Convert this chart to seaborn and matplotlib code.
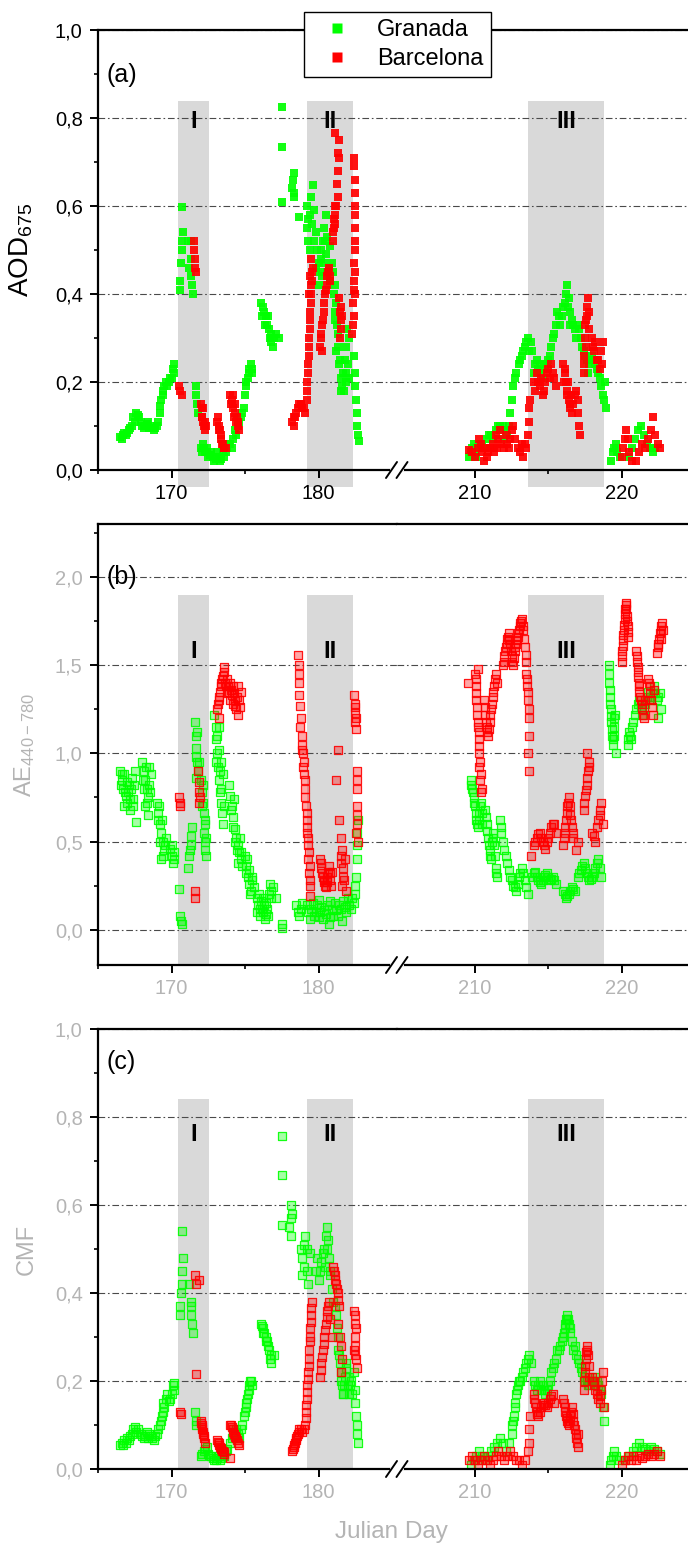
import matplotlib
matplotlib.use('Agg')
import pandas as pd
import matplotlib.pyplot as plt
from matplotlib.lines import Line2D
from matplotlib.ticker import MultipleLocator, FixedLocator, FuncFormatter
import seaborn as sns

# ---------------- data (Julian day, value) ----------------
# AOD 675 nm
gr_aod = [
    (166.5, .075), (166.7, .08), (166.9, .08), (167.1, .09), (167.3, .10), (167.4, .12), (167.6, .13),
    (167.8, .12), (168.0, .10), (168.2, .10), (168.4, .11), (168.6, .10), (168.8, .09), (169.0, .10),
    (169.2, .13), (169.3, .16), (169.45, .18), (169.6, .20), (169.8, .20), (170.0, .21), (170.1, .23),
    (170.2, .24),
    (166.6, .07), (166.8, .085), (167.0, .085), (167.2, .095), (167.5, .11), (167.7, .125), (167.9, .11),
    (168.1, .095), (168.3, .105), (168.5, .095), (168.7, .095), (168.9, .095), (169.1, .11), (169.25, .145),
    (169.4, .17), (169.5, .19), (169.7, .19), (169.9, .21), (170.15, .22),
    (170.6, .41), (170.6, .43), (170.65, .47), (170.7, .50), (170.7, .52), (170.75, .54), (170.7, .597),
    (171.1, .52), (171.2, .46), (171.3, .48), (171.3, .44), (171.35, .52), (171.4, .42), (171.45, .40),
    (171.7, .19), (171.7, .17), (171.75, .15), (171.8, .13),
    (172.0, .05), (172.1, .04), (172.2, .05), (172.3, .04), (172.5, .03), (172.6, .035), (172.8, .03),
    (173.0, .025), (173.2, .03), (173.4, .025), (173.6, .03), (173.8, .05),
    (172.15, .06), (172.4, .05), (172.7, .04), (172.9, .02), (173.1, .04), (173.3, .02), (173.5, .04),
    (173.7, .04), (173.9, .06),
    (174.0, .06), (174.2, .07), (174.4, .08), (174.5, .10), (174.7, .12), (174.9, .14), (175.0, .17),
    (175.1, .19), (175.2, .21), (175.3, .23), (175.4, .24), (175.5, .22),
    (174.1, .05), (174.3, .09), (174.6, .11), (174.8, .13), (175.05, .20), (175.25, .22), (175.45, .23),
    (176.1, .38), (176.2, .37), (176.3, .36), (176.4, .35), (176.5, .33), (176.6, .32), (176.7, .30),
    (176.8, .29), (177.0, .30), (177.3, .30),
    (176.15, .35), (176.35, .33), (176.55, .35), (176.75, .31), (176.9, .28), (177.1, .31),
    (177.55, .825), (177.55, .733), (177.55, .61),
    (178.2, .64), (178.25, .66), (178.3, .62), (178.3, .675), (178.35, .63), (178.7, .575),
    (179.2, .60), (179.3, .57), (179.3, .52), (179.5, .62), (179.6, .648), (179.7, .59), (179.8, .54),
    (179.9, .50), (180.0, .47), (180.1, .45), (180.2, .48), (180.3, .52), (180.4, .55), (180.5, .58),
    (180.6, .53), (180.5, .49), (180.7, .46), (180.8, .43), (180.6, .44),
    (179.25, .55), (179.4, .58), (179.45, .50), (179.55, .56), (179.7, .52), (179.85, .46), (180.05, .42),
    (180.15, .50), (180.25, .44), (180.35, .47), (180.45, .52), (180.55, .45), (180.75, .51), (180.9, .47),
    (181.0, .45), (181.1, .42), (181.2, .38), (181.1, .34), (181.3, .31), (181.2, .27), (181.4, .24),
    (181.5, .21), (181.6, .19), (181.7, .22), (181.8, .25), (181.9, .28), (182.0, .24), (181.9, .20),
    (181.05, .40), (181.15, .36), (181.25, .33), (181.35, .28), (181.45, .25), (181.55, .18), (181.75, .18),
    (181.85, .22), (181.95, .32), (182.05, .30), (182.1, .21),
    (182.4, .26), (182.45, .22), (182.5, .19), (182.55, .16), (182.6, .13), (182.65, .10), (182.7, .08),
    (182.75, .065),
    (209.6, .03), (209.8, .05), (210.0, .04), (210.2, .05), (210.5, .06), (210.8, .07), (211.1, .08),
    (211.4, .09), (211.7, .10), (211.9, .10), (212.0, .07),
    (209.7, .04), (209.9, .06), (210.1, .03), (210.35, .06), (210.65, .05), (210.95, .08), (211.25, .07),
    (211.55, .10), (211.8, .09), (212.1, .09), (212.2, .08),
    (212.3, .10), (212.4, .13), (212.5, .16), (212.6, .19), (212.7, .21), (212.8, .22), (213.0, .24),
    (213.2, .26), (213.4, .28), (213.6, .30), (213.8, .29), (213.9, .27),
    (213.1, .25), (213.3, .27), (213.5, .29), (213.7, .27),
    (214.1, .24), (214.3, .23), (214.5, .22), (214.7, .24), (214.9, .24), (215.1, .26), (215.3, .30),
    (215.5, .33), (215.7, .35), (215.9, .35), (216.1, .38), (216.3, .42), (216.4, .39), (216.5, .36),
    (216.6, .34), (216.8, .32), (217.0, .33), (217.2, .30), (217.4, .27), (217.6, .25), (217.8, .24),
    (218.0, .26), (218.2, .24), (218.4, .22), (218.6, .19), (218.8, .16), (218.9, .14),
    (214.0, .22), (214.2, .25), (214.4, .24), (214.6, .21), (214.8, .23), (215.0, .25), (215.2, .28),
    (215.4, .31), (215.6, .36), (215.8, .33), (216.0, .37), (216.2, .40), (216.35, .37), (216.45, .33),
    (216.7, .33), (216.9, .30), (217.1, .32), (217.3, .28), (217.5, .26), (217.7, .22), (217.9, .25),
    (218.1, .25), (218.3, .23), (218.5, .21), (218.7, .17), (218.85, .20),
    (219.3, .02), (219.4, .04), (219.5, .05), (219.6, .06), (219.7, .04), (219.9, .03),
    (220.5, .03), (220.7, .05), (220.9, .07), (221.1, .09), (221.3, .10), (221.5, .08), (221.7, .06),
    (221.9, .05), (222.1, .04), (222.3, .05),
]
bc_aod = [
    (170.5, .19), (170.6, .18), (170.7, .17),
    (171.5, .52), (171.55, .50), (171.6, .48), (171.6, .46), (171.65, .45),
    (172.0, .15), (172.05, .14), (172.1, .12), (172.15, .11), (172.2, .10), (172.3, .09),
    (172.05, .12), (172.12, .14), (172.25, .11), (172.35, .10),
    (173.1, .11), (173.2, .10), (173.3, .09), (173.4, .07), (173.5, .06), (173.6, .05), (173.7, .05),
    (173.15, .12), (173.25, .09), (173.35, .08), (173.45, .06), (173.55, .05),
    (174.0, .17), (174.1, .16), (174.2, .14), (174.3, .13), (174.4, .11), (174.5, .10), (174.6, .09),
    (174.05, .15), (174.15, .17), (174.25, .12), (174.35, .15), (174.45, .12), (174.55, .11),
    (178.2, .11), (178.4, .12), (178.6, .14), (178.8, .15), (179.0, .14), (179.1, .13),
    (178.3, .12), (178.5, .13), (178.7, .15), (178.9, .14), (178.35, .10),
    (179.2, .16), (179.25, .20), (179.3, .24), (179.35, .28), (179.4, .32), (179.45, .36), (179.5, .40),
    (179.55, .43), (179.6, .46), (179.5, .48),
    (179.22, .18), (179.28, .22), (179.32, .26), (179.38, .30), (179.42, .34), (179.48, .38), (179.52, .42),
    (179.58, .45), (179.45, .44), (179.35, .40),
    (180.1, .28), (180.2, .31), (180.3, .34), (180.4, .38), (180.5, .41), (180.6, .44), (180.7, .46),
    (180.8, .43),
    (180.15, .30), (180.25, .33), (180.35, .36), (180.45, .40), (180.55, .42), (180.65, .45), (180.75, .44),
    (180.25, .27),
    (181.0, .52), (181.05, .55), (181.1, .58), (181.1, .60), (181.25, .65), (181.4, .71), (181.4, .75),
    (181.1, .765),
    (181.05, .57), (181.0, .54), (181.3, .68), (181.35, .72), (181.3, .62), (181.2, .60), (181.15, .56),
    (181.4, .39), (181.45, .36), (181.5, .34), (181.5, .32), (181.45, .30), (181.55, .37), (181.6, .35),
    (182.4, .71), (182.4, .69), (182.45, .66), (182.45, .63), (182.5, .60), (182.5, .58), (182.5, .50),
    (182.45, .45), (182.4, .41), (182.35, .38), (182.4, .35), (182.3, .31),
    (182.35, .33), (182.42, .43), (182.48, .55), (182.47, .52), (182.42, .47), (182.45, .40),
    (209.6, .045), (209.8, .04), (210.0, .03), (210.2, .05), (210.3, .07), (210.4, .06), (210.5, .04),
    (210.6, .02), (210.8, .03), (211.0, .05), (211.2, .06), (211.4, .08), (211.6, .07), (211.8, .06),
    (212.0, .05), (212.2, .06), (212.4, .07), (212.5, .09), (212.6, .10), (212.7, .07), (212.9, .05),
    (213.1, .04), (213.3, .03), (213.5, .05),
    (212.1, .08), (212.3, .05), (211.5, .05), (211.7, .09), (211.3, .04), (210.9, .04), (210.7, .05),
    (213.2, .06), (213.4, .06),
    (213.6, .08), (213.65, .11), (213.7, .14), (213.75, .16),
    (214.0, .20), (214.2, .22), (214.4, .19), (214.6, .17), (214.8, .20), (215.0, .23), (215.2, .24),
    (215.4, .21), (215.5, .19),
    (214.1, .18), (214.3, .20), (214.5, .21), (214.7, .18), (214.9, .22), (215.1, .21), (215.3, .22),
    (216.0, .24), (216.1, .22), (216.2, .20), (216.3, .18), (216.4, .16), (216.5, .14), (216.6, .13),
    (216.7, .15), (216.9, .18), (217.0, .16), (217.05, .13), (217.1, .10), (217.15, .08),
    (216.05, .20), (216.15, .23), (216.25, .17), (216.35, .20), (216.45, .15), (216.55, .17), (216.8, .17),
    (217.4, .22), (217.45, .26), (217.5, .30), (217.55, .34), (217.6, .37), (217.7, .39), (217.8, .32),
    (217.45, .24), (217.5, .33), (217.55, .28), (217.65, .35), (217.75, .36),
    (218.0, .30), (218.1, .27), (218.3, .25), (218.5, .23), (218.6, .27), (218.7, .29),
    (218.05, .28), (218.2, .29), (218.4, .25), (218.65, .24),
    (220.0, .03), (220.1, .05), (220.2, .07), (220.3, .09), (220.4, .07), (220.5, .04), (220.7, .02),
    (221.0, .02), (221.2, .04), (221.4, .06), (221.6, .05), (221.8, .07), (222.0, .09), (222.1, .12),
    (222.3, .08), (222.5, .06), (222.6, .05),
]

# Angstrom exponent 440-780
gr_ae = [
    (166.5, .90), (166.6, .85), (166.7, .80), (166.8, .88), (166.9, .76), (167.0, .72), (167.1, .82),
    (167.2, .68), (167.3, .86), (167.4, .74), (167.6, .61), (167.5, .90),
    (166.55, .82), (166.65, .88), (166.75, .70), (166.85, .78), (166.95, .84), (167.05, .78), (167.15, .74),
    (167.25, .80), (167.35, .70), (167.45, .82),
    (168.0, .95), (168.1, .90), (168.2, .85), (168.3, .80), (168.4, .75), (168.2, .70), (168.5, .92),
    (168.6, .88), (168.4, .65),
    (168.05, .85), (168.15, .80), (168.25, .92), (168.35, .72), (168.45, .82), (168.55, .78),
    (169.0, .72), (169.1, .66), (169.2, .60), (169.3, .55), (169.4, .50), (169.5, .45), (169.3, .40),
    (169.6, .52), (169.9, .46), (170.0, .42), (170.1, .38), (170.2, .44),
    (169.05, .62), (169.15, .70), (169.25, .50), (169.35, .62), (169.45, .42), (169.55, .48), (170.05, .48),
    (170.15, .40),
    (170.5, .23), (170.6, .08), (170.65, .05), (170.7, .03),
    (171.1, .35), (171.2, .42), (171.3, .48), (171.35, .53), (171.4, .58), (171.25, .45),
    (171.6, 1.18), (171.65, 1.10), (171.7, 1.03), (171.75, .95), (171.8, .90), (171.7, .86),
    (171.65, .98), (171.75, 1.12), (171.85, .95),
    (172.0, .85), (172.1, .78), (172.15, .72), (172.2, .66), (172.3, .62), (172.2, .55), (172.25, .50),
    (172.3, .45), (172.35, .42),
    (172.05, .70), (172.15, .82), (172.25, .60), (172.35, .52),
    (172.9, 1.22), (173.0, 1.15), (173.05, 1.08), (173.1, 1.00), (173.15, .92), (173.2, .85),
    (173.3, .78), (173.35, .72), (173.25, 1.02), (173.4, .95), (173.5, .88), (173.45, .66), (173.5, .60),
    (173.0, .95), (173.1, 1.10), (173.2, 1.15), (173.3, .90), (173.4, .80), (173.55, .70),
    (173.9, .82), (174.0, .76), (174.1, .70), (174.2, .64), (174.15, .58),
    (174.05, .68), (174.25, .74),
    (174.3, .57), (174.4, .52), (174.5, .48), (174.6, .44), (174.7, .40), (174.8, .36),
    (174.35, .50), (174.45, .45), (174.55, .38), (174.65, .52), (174.75, .44),
    (175.0, .42), (175.1, .36), (175.2, .30), (175.3, .26), (175.4, .22), (175.5, .30), (175.6, .24),
    (175.05, .32), (175.15, .40), (175.25, .34), (175.35, .20), (175.45, .28),
    (175.8, .18), (175.9, .14), (176.0, .12), (176.1, .16), (176.2, .10), (176.3, .14), (176.4, .09),
    (176.5, .12), (176.6, .20), (176.7, .26), (176.8, .22), (177.1, .18),
    (175.85, .10), (175.95, .20), (176.05, .08), (176.15, .12), (176.25, .18), (176.35, .06), (176.45, .15),
    (176.55, .08), (176.75, .18), (176.9, .24),
    (177.55, .03), (177.5, .01),
    (178.5, .14), (178.6, .10), (178.7, .08), (178.8, .12), (178.9, .15),
    (179.3, .10), (179.5, .12), (179.7, .08), (179.9, .14), (180.1, .10), (180.3, .06), (180.5, .09),
    (180.7, .03), (180.9, .11), (181.1, .15), (181.3, .08), (181.5, .12), (181.7, .16), (181.9, .10),
    (182.1, .14), (182.3, .18), (180.0, .17), (180.8, .16), (181.6, .05),
    (179.2, .14), (179.4, .06), (179.6, .15), (179.8, .10), (180.0, .07), (180.2, .13), (180.4, .11),
    (180.6, .14), (180.8, .07), (181.0, .08), (181.2, .11), (181.4, .14), (181.8, .13), (182.0, .18),
    (182.2, .12), (182.4, .15),
    (182.5, .20), (182.55, .30), (182.6, .40), (182.6, .48), (182.65, .55), (182.7, .62), (182.5, .25),
    (209.7, .85), (209.8, .80), (209.9, .75), (210.0, .70), (210.1, .62), (210.2, .58), (210.3, .66),
    (210.4, .72), (210.5, .60),
    (209.75, .82), (209.85, .78), (209.95, .72), (210.05, .66), (210.15, .60), (210.25, .62), (210.35, .70),
    (210.45, .66),
    (210.7, .68), (210.8, .60), (210.9, .52), (211.0, .45), (211.1, .40), (211.2, .55), (211.3, .48),
    (211.4, .35), (211.5, .30), (211.7, .62), (211.8, .55),
    (210.75, .64), (210.85, .56), (210.95, .48), (211.05, .42), (211.15, .50), (211.25, .52), (211.35, .42),
    (211.45, .32), (211.75, .58), (211.9, .50),
    (212.0, .45), (212.2, .38), (212.4, .30), (212.6, .25), (212.8, .22), (213.0, .30), (213.2, .35),
    (213.4, .28), (213.6, .20),
    (212.1, .42), (212.3, .34), (212.5, .28), (212.7, .24), (212.9, .26), (213.1, .32), (213.3, .32),
    (213.5, .24),
    (213.9, .30), (214.1, .33), (214.3, .28), (214.5, .26), (214.7, .30), (214.9, .32), (215.1, .28),
    (215.3, .30), (215.5, .26),
    (214.0, .32), (214.2, .30), (214.4, .27), (214.6, .28), (214.8, .31), (215.0, .30), (215.2, .29),
    (215.4, .28),
    (216.0, .22), (216.2, .18), (216.4, .20), (216.6, .24), (216.8, .22),
    (216.1, .20), (216.3, .19), (216.5, .22), (216.7, .23),
    (217.0, .30), (217.2, .34), (217.4, .38), (217.6, .32), (217.8, .28), (218.0, .30), (218.2, .35),
    (218.4, .40), (218.6, .30),
    (217.1, .32), (217.3, .36), (217.5, .35), (217.7, .30), (217.9, .29), (218.1, .32), (218.3, .38),
    (218.5, .35),
    (219.1, 1.50), (219.15, 1.40), (219.2, 1.32), (219.25, 1.25), (219.3, 1.18), (219.35, 1.10),
    (219.4, 1.05), (219.5, 1.15), (219.55, 1.22), (219.6, 1.00),
    (219.12, 1.45), (219.18, 1.36), (219.22, 1.28), (219.28, 1.21), (219.32, 1.14), (219.38, 1.08),
    (219.45, 1.10), (219.5, 1.20),
    (220.4, 1.05), (220.5, 1.12), (220.6, 1.08), (220.8, 1.18), (221.0, 1.25), (221.2, 1.30),
    (221.4, 1.22), (221.6, 1.28), (221.8, 1.35), (222.0, 1.30), (222.2, 1.38), (222.4, 1.30),
    (222.6, 1.34), (222.7, 1.25), (222.5, 1.20),
    (220.45, 1.08), (220.55, 1.10), (220.7, 1.15), (220.9, 1.22), (221.1, 1.28), (221.3, 1.26),
    (221.5, 1.25), (221.7, 1.32), (221.9, 1.32), (222.1, 1.34), (222.3, 1.34), (222.5, 1.32),
]
bc_ae = [
    (170.5, .75), (170.55, .70), (170.6, .72),
    (171.6, .22), (171.6, .18),
    (171.8, .90), (171.85, .84), (171.9, .78), (171.9, .72), (171.95, .75),
    (173.1, 1.25), (173.2, 1.30), (173.3, 1.35), (173.4, 1.40), (173.5, 1.44), (173.6, 1.49),
    (173.7, 1.38), (173.8, 1.42), (173.9, 1.35), (174.0, 1.40), (174.1, 1.33), (174.2, 1.38),
    (174.3, 1.30), (174.4, 1.25), (174.5, 1.22), (174.6, 1.30), (174.7, 1.35), (173.2, 1.20),
    (173.15, 1.28), (173.25, 1.32), (173.35, 1.38), (173.45, 1.42), (173.55, 1.46), (173.65, 1.40),
    (173.75, 1.34), (173.85, 1.38), (173.95, 1.30), (174.05, 1.36), (174.15, 1.28), (174.25, 1.34),
    (174.35, 1.27), (174.45, 1.32), (174.55, 1.38), (174.65, 1.26),
    (178.6, 1.56), (178.65, 1.50), (178.7, 1.45), (178.7, 1.33), (178.75, 1.27), (178.8, 1.20),
    (178.85, 1.10), (178.9, 1.05), (178.95, 1.00), (179.0, .95), (179.0, .88), (179.1, .80),
    (179.15, .70), (179.2, .62), (179.25, .55), (179.3, .48), (179.3, .40), (179.35, .32),
    (179.4, .25), (179.4, .19),
    (178.65, 1.40), (178.75, 1.15), (178.85, 1.02), (178.95, .92), (179.05, .85), (179.1, .75),
    (179.2, .66), (179.25, .58), (179.3, .52), (179.35, .44), (179.4, .36), (179.45, .28),
    (180.1, .40), (180.2, .35), (180.3, .30), (180.4, .27), (180.5, .24), (180.6, .30), (180.7, .36),
    (180.8, .28), (180.9, .33),
    (180.15, .38), (180.25, .32), (180.35, .28), (180.45, .25), (180.55, .27), (180.65, .33),
    (180.75, .32), (180.85, .25),
    (181.2, .85), (181.3, 1.02), (181.4, .62), (181.5, .52), (181.6, .45), (181.5, .38), (181.7, .30),
    (181.6, .25), (181.8, .40), (181.9, .22),
    (181.55, .42), (181.65, .35), (181.75, .28),
    (182.4, 1.33), (182.45, 1.28), (182.5, 1.23), (182.5, 1.18), (182.55, 1.14), (182.6, .90),
    (182.6, .80), (182.65, .65), (182.55, .55), (182.7, .50),
    (182.5, 1.26), (182.55, 1.20), (182.6, .85), (182.65, .70), (182.6, .60),
    (209.5, 1.40),
    (210.0, 1.45), (210.05, 1.38), (210.1, 1.30), (210.15, 1.22), (210.2, 1.15), (210.25, 1.08),
    (210.3, 1.00), (210.3, .92), (210.35, .85), (210.4, .78), (210.2, 1.48),
    (210.05, 1.42), (210.1, 1.34), (210.15, 1.26), (210.2, 1.18), (210.25, 1.12), (210.3, 1.04),
    (210.35, .95), (210.4, .88), (210.45, .80),
    (210.6, 1.30), (210.7, 1.22), (210.8, 1.15), (210.9, 1.10), (211.0, 1.18), (211.1, 1.25),
    (211.2, 1.32), (211.3, 1.38), (211.4, 1.45), (211.5, 1.40),
    (210.65, 1.26), (210.75, 1.18), (210.85, 1.12), (210.95, 1.14), (211.05, 1.22), (211.15, 1.28),
    (211.25, 1.35), (211.35, 1.42),
    (211.9, 1.50), (212.0, 1.55), (212.1, 1.60), (212.2, 1.65), (212.3, 1.68), (212.4, 1.62),
    (212.5, 1.55), (212.6, 1.50), (212.7, 1.58), (212.8, 1.62), (212.9, 1.66), (213.0, 1.70),
    (213.1, 1.74), (213.2, 1.76), (213.3, 1.70), (213.4, 1.60), (213.45, 1.52), (213.5, 1.45),
    (213.55, 1.38), (213.6, 1.30), (213.65, 1.20), (213.6, 1.00), (213.65, .90),
    (211.95, 1.52), (212.05, 1.58), (212.15, 1.62), (212.25, 1.66), (212.35, 1.64), (212.45, 1.58),
    (212.55, 1.52), (212.65, 1.54), (212.75, 1.60), (212.85, 1.64), (212.95, 1.68), (213.05, 1.72),
    (213.15, 1.75), (213.25, 1.72), (213.35, 1.65), (213.45, 1.56), (213.55, 1.42), (213.6, 1.35),
    (213.65, 1.25), (213.7, 1.10),
    (213.8, .42), (214.0, .48), (214.2, .52), (214.4, .55), (214.6, .50), (214.8, .46), (215.0, .52),
    (215.2, .58), (215.4, .60), (215.5, .55),
    (214.1, .50), (214.3, .54), (214.5, .52), (214.7, .48), (214.9, .50), (215.1, .55), (215.3, .60),
    (216.0, .48), (216.1, .55), (216.2, .62), (216.3, .70), (216.4, .75), (216.5, .65), (216.6, .58),
    (216.7, .52), (216.9, .45), (217.0, .50),
    (216.05, .52), (216.15, .58), (216.25, .66), (216.35, .72), (216.45, .70), (216.55, .62),
    (216.65, .55),
    (217.4, .68), (217.5, .76), (217.6, .82), (217.7, .90), (217.8, .95), (217.6, 1.00),
    (217.45, .72), (217.55, .79), (217.65, .86), (217.75, .92),
    (218.0, .55), (218.2, .50), (218.3, .58), (218.5, .65), (218.6, .72), (218.7, .60),
    (218.1, .53), (218.4, .62), (218.55, .68),
    (220.0, 1.52), (220.05, 1.58), (220.1, 1.64), (220.15, 1.70), (220.2, 1.76), (220.25, 1.82),
    (220.3, 1.85), (220.35, 1.78), (220.4, 1.72), (220.45, 1.66),
    (220.02, 1.55), (220.08, 1.61), (220.12, 1.67), (220.18, 1.73), (220.22, 1.79), (220.28, 1.84),
    (220.32, 1.82), (220.38, 1.75), (220.42, 1.69),
    (221.0, 1.58), (221.05, 1.52), (221.1, 1.46), (221.15, 1.40), (221.2, 1.35), (221.3, 1.30),
    (221.4, 1.25), (221.5, 1.20), (221.6, 1.30),
    (221.02, 1.55), (221.08, 1.49), (221.12, 1.43), (221.18, 1.38), (221.25, 1.32), (221.35, 1.28),
    (221.45, 1.22),
    (221.8, 1.42), (221.9, 1.38), (222.0, 1.30), (222.1, 1.22), (222.2, 1.36),
    (221.85, 1.40), (221.95, 1.34), (222.05, 1.26),
    (222.4, 1.57), (222.5, 1.62), (222.6, 1.68), (222.7, 1.72), (222.8, 1.70), (222.7, 1.65),
    (222.45, 1.60), (222.55, 1.65), (222.65, 1.70), (222.75, 1.74),
]

# coarse mode fraction
gr_cmf = [
    (166.5, .055), (166.7, .055), (166.9, .06), (167.1, .065), (167.3, .08), (167.5, .095), (167.7, .09),
    (167.9, .08), (168.1, .07), (168.3, .085), (168.5, .08), (168.7, .07), (168.9, .075), (169.1, .09),
    (169.3, .11), (169.4, .13), (169.5, .14), (169.6, .16), (169.8, .155), (170.0, .17), (170.1, .19),
    (170.2, .195),
    (166.6, .06), (166.8, .065), (167.0, .07), (167.2, .075), (167.4, .09), (167.6, .085), (168.0, .075),
    (168.2, .075), (168.4, .07), (168.6, .075), (168.8, .065), (169.0, .08), (169.2, .10), (169.35, .12),
    (169.45, .15), (169.7, .17), (169.9, .16), (170.15, .18),
    (170.6, .37), (170.6, .35), (170.65, .40), (170.7, .42), (170.7, .45), (170.75, .48), (170.7, .54),
    (171.2, .42), (171.3, .37), (171.35, .35), (171.4, .33), (171.45, .31), (171.3, .38),
    (171.6, .13), (171.65, .11), (171.7, .10),
    (172.0, .03), (172.2, .04), (172.4, .05), (172.6, .03), (172.8, .025), (173.0, .02), (173.2, .03),
    (173.4, .025), (173.6, .03), (173.8, .045),
    (172.1, .035), (172.3, .045), (172.5, .035), (172.7, .03), (172.9, .02), (173.1, .025), (173.3, .02),
    (173.5, .03), (173.7, .04),
    (174.0, .06), (174.2, .08), (174.4, .09), (174.6, .07), (174.8, .10), (175.0, .13), (175.1, .15),
    (175.2, .17), (175.3, .19), (175.4, .20), (175.5, .19),
    (174.1, .07), (174.3, .085), (174.5, .08), (174.7, .09), (174.9, .12), (175.05, .14), (175.15, .16),
    (175.25, .18), (175.35, .20),
    (176.1, .33), (176.2, .32), (176.3, .31), (176.4, .30), (176.5, .29), (176.6, .27), (176.7, .25),
    (176.8, .24), (177.0, .26),
    (176.15, .325), (176.25, .31), (176.45, .29), (176.55, .28), (176.75, .26),
    (177.55, .757), (177.5, .668), (177.55, .555),
    (178.0, .55), (178.1, .57), (178.15, .60), (178.2, .58), (178.1, .53),
    (178.8, .50), (178.9, .48), (179.0, .46), (179.1, .53), (179.2, .50), (179.3, .42), (179.4, .49),
    (178.9, .44), (179.0, .51), (179.25, .45),
    (179.8, .45), (180.0, .43), (180.2, .47), (180.4, .50), (180.5, .53), (180.6, .55), (180.7, .48),
    (180.8, .44), (180.9, .41), (181.0, .38),
    (179.9, .48), (180.1, .45), (180.3, .49), (180.45, .46), (180.55, .50), (180.65, .52), (180.75, .45),
    (181.2, .35), (181.3, .30), (181.4, .26), (181.5, .22), (181.6, .19), (181.7, .17), (181.8, .21),
    (181.9, .24), (182.0, .19), (182.1, .17), (182.2, .20),
    (181.1, .37), (181.25, .32), (181.35, .27), (181.45, .24), (181.55, .20), (181.65, .17), (181.75, .19),
    (181.85, .23), (182.05, .21), (182.15, .19), (182.25, .17),
    (182.4, .22), (182.45, .18), (182.5, .15), (182.55, .12), (182.6, .10), (182.65, .08), (182.7, .06),
    (209.7, .01), (209.9, .02), (210.1, .03), (210.3, .04), (210.5, .03), (210.7, .02), (210.9, .03),
    (211.1, .04), (211.3, .05), (211.5, .06), (211.7, .07), (211.9, .06), (212.1, .04), (212.3, .06),
    (212.5, .08), (212.6, .11), (212.7, .14), (212.8, .17), (212.9, .19), (213.0, .20), (213.2, .21),
    (213.4, .23), (213.6, .25), (213.8, .24),
    (212.55, .10), (212.65, .12), (212.75, .15), (212.85, .18), (213.1, .20), (213.3, .22), (213.5, .24),
    (213.7, .26),
    (214.0, .20), (214.2, .18), (214.4, .20), (214.6, .19), (214.8, .17), (215.0, .19), (215.2, .22),
    (215.4, .24), (215.6, .27), (215.8, .28), (216.0, .30), (216.1, .32), (216.2, .34), (216.3, .35),
    (216.4, .33), (216.5, .31), (216.6, .29), (216.8, .28),
    (214.1, .19), (214.3, .19), (214.5, .18), (214.7, .18), (214.9, .18), (215.1, .20), (215.3, .23),
    (215.5, .25), (215.7, .27), (215.9, .29), (216.05, .31), (216.15, .33), (216.25, .34), (216.35, .34),
    (216.45, .32), (216.7, .27),
    (217.0, .25), (217.2, .23), (217.4, .21), (217.6, .20), (217.8, .19), (218.0, .20), (218.2, .21),
    (218.4, .19), (218.6, .17), (218.7, .14), (218.8, .11),
    (216.9, .26), (217.1, .24), (217.3, .22), (217.5, .20), (217.7, .19), (217.9, .20), (218.1, .20),
    (218.3, .20), (218.5, .18),
    (219.2, .01), (219.3, .02), (219.4, .03), (219.5, .04), (219.6, .03), (219.8, .02),
    (220.2, .02), (220.5, .03), (220.8, .04), (221.0, .05), (221.2, .06), (221.4, .05), (221.6, .045),
    (221.8, .04), (222.0, .05), (222.2, .045), (222.4, .04), (222.6, .035),
]
bc_cmf = [
    (170.6, .13), (170.65, .125),
    (171.6, .44), (171.65, .42), (171.9, .43), (171.7, .215),
    (172.0, .11), (172.05, .10), (172.1, .09), (172.15, .08), (172.2, .07), (172.3, .06),
    (172.02, .105), (172.08, .095), (172.12, .085), (172.18, .075),
    (173.1, .065), (173.2, .06), (173.3, .05), (173.4, .045), (173.5, .04), (173.6, .035), (174.0, .025),
    (173.15, .062), (173.25, .055), (173.35, .048), (173.45, .042), (173.55, .038),
    (174.0, .10), (174.1, .095), (174.2, .085), (174.3, .075), (174.4, .07), (174.5, .06), (174.6, .055),
    (174.05, .10), (174.15, .09), (174.25, .08), (174.35, .072), (174.45, .065),
    (178.2, .04), (178.3, .05), (178.4, .06), (178.5, .07), (178.6, .08), (178.7, .09), (178.9, .085),
    (179.0, .09),
    (178.25, .045), (178.35, .055), (178.45, .065), (178.55, .075), (178.65, .085), (178.8, .09),
    (179.1, .10), (179.15, .13), (179.2, .16), (179.25, .19), (179.3, .22), (179.35, .25), (179.4, .29),
    (179.45, .32), (179.5, .35), (179.55, .38),
    (179.12, .115), (179.18, .145), (179.22, .175), (179.28, .205), (179.32, .235), (179.38, .27),
    (179.42, .30), (179.48, .335), (179.52, .365),
    (180.1, .21), (180.2, .24), (180.3, .27), (180.4, .30), (180.5, .33), (180.6, .36), (180.7, .38),
    (180.8, .34), (180.9, .30),
    (180.15, .225), (180.25, .255), (180.35, .285), (180.45, .315), (180.55, .345), (180.65, .37),
    (181.0, .46), (181.1, .44), (181.2, .42), (181.3, .40), (181.4, .37), (181.3, .33), (181.5, .28),
    (181.6, .25), (181.5, .22),
    (181.05, .45), (181.15, .43), (181.25, .41), (181.35, .385), (181.45, .30),
    (182.4, .36), (182.45, .33), (182.5, .30), (182.5, .28), (182.55, .25), (182.6, .23), (182.4, .27),
    (182.45, .35), (182.55, .32), (182.5, .26),
    (209.6, .02), (209.8, .03), (210.0, .02), (210.2, .01), (210.4, .02), (210.6, .03), (210.8, .02),
    (211.0, .01), (211.2, .02), (211.4, .03), (211.6, .04), (211.8, .03), (212.0, .02), (212.2, .03),
    (212.4, .04), (212.6, .03), (212.8, .02), (213.0, .02), (213.2, .01), (213.4, .02),
    (213.6, .04), (213.65, .06), (213.7, .09), (213.75, .12),
    (214.0, .17), (214.1, .15), (214.2, .13), (214.3, .12), (214.5, .14), (214.7, .15), (214.9, .14),
    (215.1, .16), (215.3, .17), (215.4, .15),
    (214.05, .16), (214.15, .14), (214.25, .125), (214.4, .13), (214.6, .145), (214.8, .145), (215.0, .15),
    (215.2, .165),
    (216.0, .16), (216.1, .14), (216.2, .12), (216.3, .11), (216.4, .10), (216.5, .12), (216.6, .14),
    (216.7, .11), (216.8, .09), (216.9, .07), (217.0, .05), (217.0, .08),
    (216.05, .15), (216.15, .13), (216.25, .115), (216.35, .105), (216.45, .11), (216.55, .13),
    (216.65, .125), (216.75, .10), (216.85, .08), (216.95, .06),
    (217.4, .18), (217.5, .22), (217.55, .25), (217.6, .28), (217.7, .26), (217.8, .21),
    (217.45, .20), (217.52, .235), (217.58, .265), (217.65, .27), (217.75, .235),
    (218.0, .21), (218.1, .19), (218.3, .17), (218.5, .15), (218.6, .18), (218.7, .22), (218.8, .14),
    (218.05, .20), (218.2, .18), (218.4, .16), (218.55, .165), (218.65, .20),
    (220.0, .01), (220.2, .02), (220.4, .03), (220.6, .02), (220.8, .03), (221.0, .02), (221.2, .03),
    (221.4, .025), (221.6, .03), (221.8, .035), (222.0, .03), (222.2, .035), (222.4, .04), (222.6, .03),
]

# dust events (shaded)
event_names = ['I', 'II', 'III']
event_start = [170.46, 179.2, 213.6]
event_end = [172.55, 182.33, 218.8]

# ---------------- style ----------------
sns.set_style('ticks')
plt.rcParams['font.family'] = ['Liberation Sans', 'DejaVu Sans']
plt.rcParams['mathtext.default'] = 'regular'
plt.rcParams['text.color'] = 'black'

GREEN = '#00ff00'
RED = '#ff0000'
GREY = '#b4b4b4'
SHADE = '#d9d9d9'

W, H = 688, 1546
fig = plt.figure(figsize=(W / 100, H / 100), dpi=100)

X0, XB, X1 = 98, 397, 688          # left edge, axis break, right edge (px)
left_lim = (165, 185.34)
right_lim = (204.68, 224.52)


def fx(px):
    return px / W


def fy(py):
    return 1 - py / H


def comma(v, pos):
    return f'{v:.1f}'.replace('.', ',')


def to_df(pts):
    return pd.DataFrame(pts, columns=['day', 'val'])


def panel(top, bottom, data_g, data_b, ylim, major, minor, ylabel, lab_size, txt_color,
          hollow, shade_y, num_y, letter, letter_y, ylab_x):
    h = (bottom - top) / H
    axL = fig.add_axes([fx(X0), fy(bottom), fx(XB) - fx(X0), h])
    axR = fig.add_axes([fx(XB), fy(bottom), fx(X1) - fx(XB), h], sharey=axL)
    axL.set_xlim(*left_lim)
    axR.set_xlim(*right_lim)
    axL.set_ylim(*ylim)

    for ax in (axL, axR):
        lo, hi = ax.get_xlim()
        for name, a, b in zip(event_names, event_start, event_end):
            if a > lo and b < hi:
                ax.axvspan(a, b, ymin=shade_y[0], ymax=shade_y[1], color=SHADE, lw=0,
                           zorder=0.2, clip_on=False)
                ax.text((a + b) / 2, num_y, name, ha='center', va='center', fontsize=17,
                        fontweight='bold', color='black', zorder=4)
        for d, col in ((data_g, GREEN), (data_b, RED)):
            df = to_df(d)
            if hollow:
                sns.scatterplot(data=df, x='day', y='val', ax=ax, marker='s', s=30,
                                facecolor=matplotlib.colors.to_rgba(col, 0.35),
                                edgecolor=matplotlib.colors.to_rgba(col, 0.9),
                                linewidth=0.9, legend=False, zorder=2)
            else:
                sns.scatterplot(data=df, x='day', y='val', ax=ax, marker='s', s=38,
                                color=col, alpha=0.92, linewidth=0, legend=False, zorder=2)
        ax.set_xlabel('')
        ax.set_ylabel('')
        ax.set_axisbelow(True)
        ax.grid(axis='y', which='major', linestyle=(0, (6, 2.5, 1.5, 2.5)), color='#4a4a4a',
                linewidth=0.8)
        ax.grid(axis='x', visible=False)
        for s in ax.spines.values():
            s.set_color('black')
            s.set_linewidth(1.6)
        ax.spines['right'].set_visible(False)
        ax.tick_params(axis='x', which='major', direction='out', length=6, width=1.4,
                       colors='black', labelcolor=txt_color, labelsize=14.5, bottom=True,
                       top=False, pad=4)
        ax.tick_params(axis='x', which='minor', direction='out', length=3, width=1.2,
                       colors='black', bottom=True, top=False)

    axR.spines['left'].set_visible(False)
    axR.tick_params(axis='y', which='both', left=False, labelleft=False, right=False)

    axL.yaxis.set_major_locator(MultipleLocator(major))
    axL.yaxis.set_minor_locator(MultipleLocator(minor))
    axL.yaxis.set_major_formatter(FuncFormatter(comma))
    axL.tick_params(axis='y', which='major', direction='out', length=6, width=1.4,
                    colors='black', labelcolor=txt_color, labelsize=14.5, left=True,
                    right=False, pad=5)
    axL.tick_params(axis='y', which='minor', direction='out', length=3, width=1.2,
                    colors='black', left=True, right=False)

    axL.xaxis.set_major_locator(FixedLocator([170, 180]))
    axL.xaxis.set_minor_locator(FixedLocator([165, 175]))
    axR.xaxis.set_major_locator(FixedLocator([210, 220]))
    axR.xaxis.set_minor_locator(FixedLocator([215]))

    axL.set_ylabel(ylabel, fontsize=lab_size, color=txt_color)
    axL.yaxis.set_label_coords(ylab_x, 0.5)
    axL.text(0.03, letter_y, letter, transform=axL.transAxes, fontsize=18, ha='left',
             va='center', color='black', zorder=4)

    # axis break marks
    yb = bottom
    fig.add_artist(Line2D([fx(392), fx(401.5)], [fy(yb), fy(yb)], color='white', lw=3,
                          transform=fig.transFigure, zorder=10))
    for cx in (391.5, 402):
        fig.add_artist(Line2D([fx(cx - 5.5), fx(cx + 5.5)], [fy(yb + 8), fy(yb - 8)],
                              color='black', lw=1.4, transform=fig.transFigure, zorder=11))
    return axL, axR


panel(30, 470, gr_aod, bc_aod, (0, 1.0), 0.2, 0.1, 'AOD$_{675}$', 20, 'black',
      False, (-0.038, 0.839), 0.793, '(a)', 0.898, -0.211)
panel(524, 965, gr_ae, bc_ae, (-0.2, 2.3), 0.5, 0.25, 'AE$_{440-780}$', 17, GREY,
      True, (0, 0.84), 1.58, '(b)', 0.880, -0.204)
panel(1029, 1469, gr_cmf, bc_cmf, (0, 1.0), 0.2, 0.1, 'CMF', 17, GREY,
      True, (0, 0.84), 0.761, '(c)', 0.925, -0.200)

fig.text(fx(391), fy(1532), 'Julian Day', ha='center', va='center', fontsize=17.5, color=GREY)

handles = [Line2D([], [], marker='s', ls='', color=GREEN, markersize=7, mec='none'),
           Line2D([], [], marker='s', ls='', color=RED, markersize=7, mec='none')]
leg = fig.legend(handles, ['Granada', 'Barcelona'], loc='upper left',
                 bbox_to_anchor=(fx(304), fy(12)), bbox_transform=fig.transFigure,
                 frameon=True, fancybox=False, edgecolor='black', framealpha=1,
                 fontsize=17, borderpad=0.3, handlelength=2.2, handletextpad=0.6,
                 labelspacing=0.3, borderaxespad=0, labelcolor='black')
leg.get_frame().set_linewidth(1.0)
leg.set_zorder(20)

fig.savefig('out.png', dpi=100)
